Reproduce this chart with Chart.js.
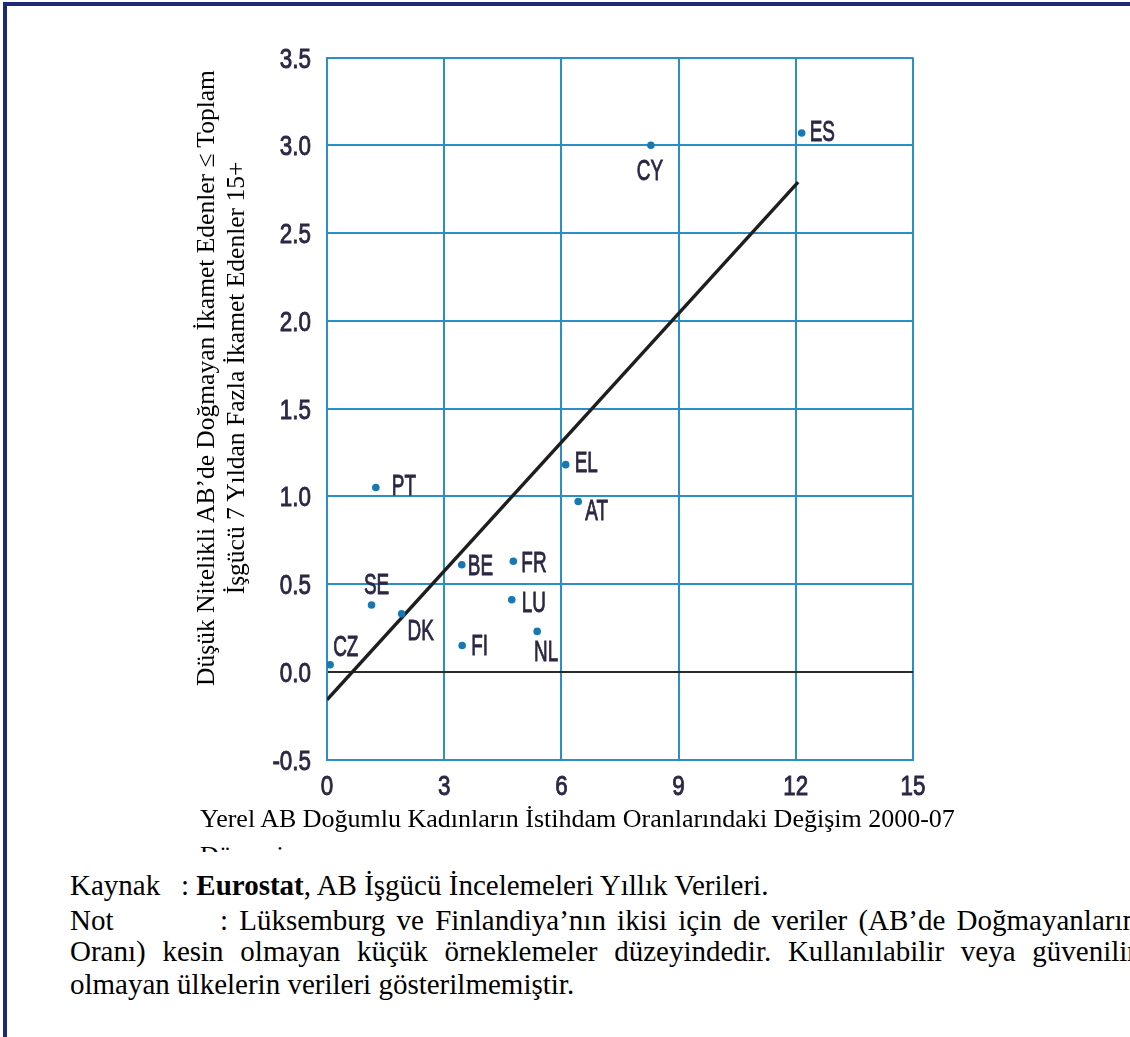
<!DOCTYPE html>
<html lang="tr">
<head>
<meta charset="utf-8">
<title>Düşük Nitelikli AB'de Doğmayan İkamet Edenler</title>
<script src="https://cdn.jsdelivr.net/npm/chart.js@4.4.1/dist/chart.umd.min.js"></script>
<style>
  html, body { margin:0; padding:0; width:1130px; height:1037px; overflow:hidden; background:#fff; }
  #frame { position:absolute; left:3px; top:2px; width:1400px; height:1400px; border:4px solid #1d2a7a; box-sizing:border-box; }
  #wrap { position:absolute; left:0; top:0; width:1130px; height:840px; }
  .serif { font-family:'Liberation Serif','Times New Roman',serif; color:#000; }
  #ytitle { position:absolute; width:760px; height:60px; left:-159px; top:348px; font-size:25.5px; line-height:30px;
            text-align:center; transform:rotate(-90deg); white-space:nowrap; }
  #xtitle { position:absolute; left:200px; top:804px; font-size:26px; line-height:30px; white-space:nowrap; }
  #xtitle2 { position:absolute; left:200px; top:847px; height:5px; overflow:hidden; font-size:26px; line-height:30px; white-space:nowrap; }
  #xtitle2 span { position:relative; top:-6px; }
  .ln { position:absolute; left:70px; font-size:29px; line-height:33px; white-space:normal; }
  .just { width:1067px; text-align:justify; text-align-last:justify; }
  .lab { display:inline-block; }
</style>
</head>
<body>
<div id="frame"></div>
<div id="wrap"><canvas id="chart"></canvas></div>

<div id="ytitle" class="serif">Düşük Nitelikli AB’de Doğmayan İkamet Edenler ≤ Toplam<br>İşgücü 7 Yıldan Fazla İkamet Edenler 15+</div>
<div id="xtitle" class="serif">Yerel AB Doğumlu Kadınların İstihdam Oranlarındaki Değişim 2000-07</div>
<div id="xtitle2" class="serif"><span>Dönemi</span></div>

<div class="ln serif" style="top:869px;"><span class="lab" style="width:111px;">Kaynak</span>: <b>Eurostat</b>, AB İşgücü İncelemeleri Yıllık Verileri.</div>
<div class="ln serif just" style="top:904px;"><span class="lab" style="width:150px;">Not</span>: Lüksemburg ve Finlandiya’nın ikisi için de veriler (AB’de Doğmayanların</div>
<div class="ln serif just" style="top:935px;">Oranı) kesin olmayan küçük örneklemeler düzeyindedir. Kullanılabilir veya güvenilir</div>
<div class="ln serif" style="top:968px;">olmayan ülkelerin verileri gösterilmemiştir.</div>

<script>
// Country codes and their values
const countries = ['CZ', 'SE', 'DK', 'PT', 'BE', 'FI', 'FR', 'LU', 'NL', 'EL', 'AT', 'CY', 'ES'];
// Change in employment rate of native EU-born women, 2000-07
const employmentChange = [0.08, 1.14, 1.91, 1.25, 3.45, 3.46, 4.77, 4.73, 5.38, 6.11, 6.43, 8.29, 12.15];
// Low-skilled non-EU-born residents (7+ years) relative to total labour force 15+
const residentShare = [0.04, 0.38, 0.33, 1.05, 0.61, 0.15, 0.63, 0.41, 0.23, 1.18, 0.97, 3.00, 3.07];

// Fitted trend line end points
const trendX = [0, 12.06];
const trendY = [-0.16, 2.79];

// Axis tick labels
const xTickLabels = ['0', '3', '6', '9', '12', '15'];
const yTickLabels = ['-0.5', '0.0', '0.5', '1.0', '1.5', '2.0', '2.5', '3.0', '3.5'];

// Where each country code sits around its dot (pixel offsets, text alignment)
const labelPlacement = {
  CZ: { align: 'left',   dx: 3,  dy: -19 },
  SE: { align: 'center', dx: 5,  dy: -22 },
  DK: { align: 'left',   dx: 6,  dy: 15 },
  PT: { align: 'left',   dx: 16, dy: -3 },
  BE: { align: 'left',   dx: 6,  dy: 0 },
  FI: { align: 'left',   dx: 9,  dy: -1 },
  FR: { align: 'left',   dx: 8,  dy: 0 },
  LU: { align: 'left',   dx: 10, dy: 2 },
  NL: { align: 'center', dx: 9,  dy: 19 },
  EL: { align: 'left',   dx: 9,  dy: -3 },
  AT: { align: 'left',   dx: 7,  dy: 8 },
  CY: { align: 'center', dx: -1, dy: 24 },
  ES: { align: 'left',   dx: 8,  dy: -3 }
};

const GRID_BLUE = '#2a8fc6';
const ZERO_LINE = '#2a2a2a';
const TEXT_DARK = '#2b2744';
const DOT_BLUE = '#1878b1';
const SANS = '"Liberation Sans", Arial, sans-serif';

const xTickValues = xTickLabels.map(Number);
const yTickValues = yTickLabels.map(Number);

// Narrow sans text: a regular face squeezed horizontally, lightly stroked for weight
function drawNarrow(ctx, text, px, py, align, squeeze) {
  ctx.save();
  ctx.translate(px, py);
  ctx.scale(squeeze, 1);
  ctx.textAlign = align;
  ctx.textBaseline = 'alphabetic';
  ctx.fillText(text, 0, 0);
  ctx.strokeText(text, 0, 0);
  ctx.restore();
}

const tickText = {
  id: 'tickText',
  afterDraw(chart) {
    const { ctx, scales: { x, y } } = chart;
    ctx.save();
    ctx.fillStyle = TEXT_DARK;
    ctx.strokeStyle = TEXT_DARK;
    ctx.lineWidth = 0.9;
    ctx.font = '28px ' + SANS;
    xTickLabels.forEach((lab, i) => {
      drawNarrow(ctx, lab, x.getPixelForValue(xTickValues[i]), y.bottom + 35.5, 'center', 0.8);
    });
    yTickLabels.forEach((lab, i) => {
      drawNarrow(ctx, lab, x.left - 16, y.getPixelForValue(yTickValues[i]) + 10, 'right', 0.8);
    });
    ctx.restore();
  }
};

const countryText = {
  id: 'countryText',
  afterDatasetsDraw(chart) {
    const { ctx, scales: { x, y } } = chart;
    ctx.save();
    ctx.fillStyle = TEXT_DARK;
    ctx.strokeStyle = TEXT_DARK;
    ctx.lineWidth = 0.9;
    ctx.font = '30px ' + SANS;
    countries.forEach((code, i) => {
      const p = labelPlacement[code];
      const px = x.getPixelForValue(employmentChange[i]) + p.dx;
      const py = y.getPixelForValue(residentShare[i]) + p.dy + 10.7;
      drawNarrow(ctx, code, px, py, p.align, 0.63);
    });
    ctx.restore();
  }
};

new Chart(document.getElementById('chart'), {
  data: {
    datasets: [
      {
        type: 'line',
        data: trendX.map((v, i) => ({ x: v, y: trendY[i] })),
        borderColor: '#1e1e1e',
        borderWidth: 3.4,
        pointRadius: 0,
        fill: false,
        order: 2
      },
      {
        type: 'scatter',
        data: employmentChange.map((v, i) => ({ x: v, y: residentShare[i] })),
        pointRadius: 3.8,
        pointBackgroundColor: DOT_BLUE,
        pointBorderWidth: 0,
        order: 1
      }
    ]
  },
  options: {
    responsive: true,
    maintainAspectRatio: false,
    animation: false,
    devicePixelRatio: 1,
    layout: { padding: { left: 287, top: 57.5, right: 217, bottom: 40.5 } },
    plugins: { legend: { display: false }, tooltip: { enabled: false } },
    scales: {
      x: {
        type: 'linear',
        min: xTickValues[0],
        max: xTickValues[xTickValues.length - 1],
        afterBuildTicks: s => { s.ticks = xTickValues.map(v => ({ value: v })); },
        afterFit: s => { s.height = 40; },
        ticks: { display: false },
        grid: { color: GRID_BLUE, lineWidth: 2, drawTicks: false },
        border: { display: true, color: GRID_BLUE, width: 2 }
      },
      y: {
        type: 'linear',
        min: yTickValues[0],
        max: yTickValues[yTickValues.length - 1],
        afterBuildTicks: s => { s.ticks = yTickValues.map(v => ({ value: v })); },
        afterFit: s => { s.width = 40; },
        ticks: { display: false },
        grid: {
          color: c => (c.tick && c.tick.value === 0 ? ZERO_LINE : GRID_BLUE),
          lineWidth: 2,
          drawTicks: false
        },
        border: { display: true, color: GRID_BLUE, width: 2 }
      }
    }
  },
  plugins: [tickText, countryText]
});
</script>
</body>
</html>
